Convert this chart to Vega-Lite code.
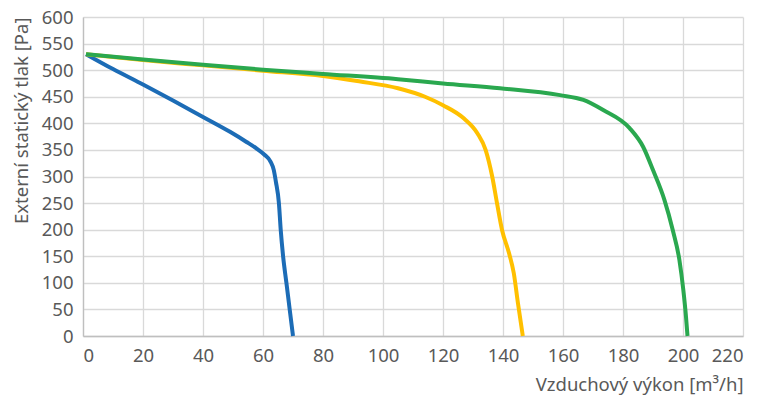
{
  "$schema": "https://vega.github.io/schema/vega-lite/v6.json",
  "width": 660,
  "height": 319,
  "autosize": {"type": "none"},
  "padding": {"left": 83, "top": 17, "right": 19, "bottom": 65},
  "background": "white",
  "config": {
    "view": {"stroke": null},
    "font": "Noto Sans",
    "axis": {
      "labelFont": "Noto Sans",
      "titleFont": "Noto Sans",
      "labelFontSize": 18.5,
      "titleFontSize": 18.5,
      "labelColor": "#595959",
      "titleColor": "#595959",
      "titleFontWeight": "normal",
      "gridColor": "#d9d9d9",
      "gridWidth": 1.3,
      "domainColor": "#bfbfbf",
      "domainWidth": 1.3,
      "ticks": false
    }
  },
  "data": {
    "values": [
      {"s": "A", "o": 1, "x": 1, "y": 530},
      {"s": "A", "o": 2, "x": 10, "y": 502},
      {"s": "A", "o": 3, "x": 20, "y": 473},
      {"s": "A", "o": 4, "x": 30, "y": 443},
      {"s": "A", "o": 5, "x": 40, "y": 412},
      {"s": "A", "o": 6, "x": 49, "y": 384},
      {"s": "A", "o": 7, "x": 54.5, "y": 365},
      {"s": "A", "o": 8, "x": 58, "y": 352},
      {"s": "A", "o": 9, "x": 60.5, "y": 341},
      {"s": "A", "o": 10, "x": 62.5, "y": 328},
      {"s": "A", "o": 11, "x": 63.6, "y": 312},
      {"s": "A", "o": 12, "x": 64.3, "y": 290},
      {"s": "A", "o": 13, "x": 65.3, "y": 250},
      {"s": "A", "o": 14, "x": 65.9, "y": 200},
      {"s": "A", "o": 15, "x": 66.7, "y": 150},
      {"s": "A", "o": 16, "x": 67.8, "y": 100},
      {"s": "A", "o": 17, "x": 68.9, "y": 50},
      {"s": "A", "o": 18, "x": 70, "y": 0},
      {"s": "B", "o": 1, "x": 1, "y": 530},
      {"s": "B", "o": 2, "x": 20, "y": 519},
      {"s": "B", "o": 3, "x": 40, "y": 509},
      {"s": "B", "o": 4, "x": 60, "y": 499},
      {"s": "B", "o": 5, "x": 80, "y": 489},
      {"s": "B", "o": 6, "x": 92, "y": 479},
      {"s": "B", "o": 7, "x": 105, "y": 466},
      {"s": "B", "o": 8, "x": 114, "y": 450},
      {"s": "B", "o": 9, "x": 120, "y": 434},
      {"s": "B", "o": 10, "x": 127, "y": 409},
      {"s": "B", "o": 11, "x": 131.5, "y": 381},
      {"s": "B", "o": 12, "x": 134.2, "y": 350},
      {"s": "B", "o": 13, "x": 136.4, "y": 300},
      {"s": "B", "o": 14, "x": 138, "y": 250},
      {"s": "B", "o": 15, "x": 139.7, "y": 199},
      {"s": "B", "o": 16, "x": 142, "y": 156},
      {"s": "B", "o": 17, "x": 143.6, "y": 118},
      {"s": "B", "o": 18, "x": 145, "y": 61},
      {"s": "B", "o": 19, "x": 146.6, "y": 0},
      {"s": "C", "o": 1, "x": 1, "y": 530},
      {"s": "C", "o": 2, "x": 20, "y": 520},
      {"s": "C", "o": 3, "x": 40, "y": 510},
      {"s": "C", "o": 4, "x": 60, "y": 501},
      {"s": "C", "o": 5, "x": 80, "y": 493},
      {"s": "C", "o": 6, "x": 105, "y": 483},
      {"s": "C", "o": 7, "x": 120, "y": 475},
      {"s": "C", "o": 8, "x": 139, "y": 466},
      {"s": "C", "o": 9, "x": 159, "y": 453},
      {"s": "C", "o": 10, "x": 166.8, "y": 444},
      {"s": "C", "o": 11, "x": 173.4, "y": 425},
      {"s": "C", "o": 12, "x": 182.2, "y": 391},
      {"s": "C", "o": 13, "x": 186.7, "y": 356},
      {"s": "C", "o": 14, "x": 190, "y": 312},
      {"s": "C", "o": 15, "x": 193.8, "y": 256},
      {"s": "C", "o": 16, "x": 196.6, "y": 199},
      {"s": "C", "o": 17, "x": 198.8, "y": 143},
      {"s": "C", "o": 18, "x": 200.1, "y": 87},
      {"s": "C", "o": 19, "x": 201, "y": 36},
      {"s": "C", "o": 20, "x": 201.5, "y": 0}
    ]
  },
  "mark": {"type": "line", "strokeWidth": 4, "interpolate": "monotone", "strokeCap": "butt"},
  "encoding": {
    "x": {
      "field": "x", "type": "quantitative",
      "scale": {"domain": [0, 220], "nice": false},
      "axis": {"values": [0, 20, 40, 60, 80, 100, 120, 140, 160, 180, 200, 220], "title": "Vzduchový výkon [m³/h]", "titleAnchor": "end", "labelPadding": 10, "titlePadding": 11, "domain": true}
    },
    "y": {
      "field": "y", "type": "quantitative",
      "scale": {"domain": [0, 600], "nice": false},
      "axis": {"values": [0, 50, 100, 150, 200, 250, 300, 350, 400, 450, 500, 550, 600], "title": "Externí statický tlak [Pa]", "titleAnchor": "end", "labelPadding": 10, "titlePadding": 10, "domain": true}
    },
    "color": {
      "field": "s", "type": "nominal",
      "scale": {"domain": ["A", "B", "C"], "range": ["#1c6cb6", "#ffc000", "#2aa84f"]},
      "legend": null
    },
    "order": {"field": "o", "type": "quantitative"}
  }
}
